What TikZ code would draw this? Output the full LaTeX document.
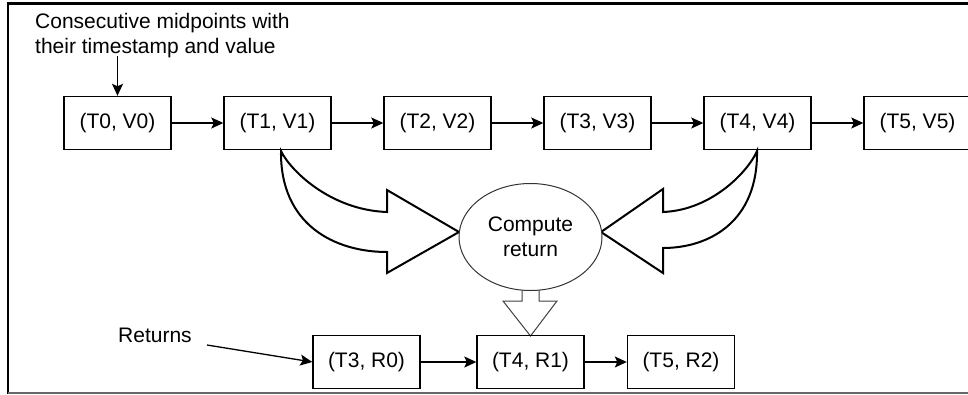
\documentclass[tikz,border=0pt]{standalone}
\usepackage{fontspec}
\setmainfont{Liberation Sans}
\usetikzlibrary{arrows.meta,shapes.geometric}

\begin{document}
\begin{tikzpicture}[x=1pt,y=-1pt,
  txt/.style={font=\fontsize{21}{25}\selectfont},
  box/.style={txt, draw, line width=1.4pt, minimum width=107pt,
              minimum height=53pt, inner sep=0pt},
  link/.style={line width=1.3pt,
               -{Stealth[length=12pt,width=11pt,inset=2.5pt]}},
  bigarrow/.style={draw, line width=2pt, fill=white, line join=miter},
  smallarrow/.style={draw=black!75, line width=1pt, fill=white, line join=miter},
]
\useasboundingbox (0,0) rectangle (968,394);

% frame
\draw[line width=3pt] (6.75,3.5) -- (968,3.5);
\draw[line width=2.5pt] (8,2) -- (8,394);
\draw[line width=1.5pt, black!60] (8,393.2) -- (968,393.2);

% midpoints
\node[box] (v0) at (117.5,123) {(T0, V0)};
\node[box] (v1) at (277.5,123) {(T1, V1)};
\node[box] (v2) at (437.5,123) {(T2, V2)};
\node[box] (v3) at (597.5,123) {(T3, V3)};
\node[box] (v4) at (757.5,123) {(T4, V4)};
\node[box] (v5) at (917.5,123) {(T5, V5)};

\foreach \a/\b in {v0/v1, v1/v2, v2/v3, v3/v4, v4/v5}
  \draw[link] (\a) -- (\b);

% caption
\node[txt, anchor=north west, align=left, inner sep=0pt] (note) at (35,13)
  {Consecutive midpoints with\\their timestamp and value};
\draw[link] ([yshift=2pt]note.south -| v0.north) -- (v0.north);

% curved block arrows into the computation
\path[bigarrow] (281,151) .. controls (290,170) and (330,210) .. (387,212)
  -- (387,190) -- (459,232) -- (387,273) -- (387,252)
  .. controls (335,252) and (280,225) .. (281,151) -- cycle;
\path[bigarrow] (757,151) .. controls (749,170) and (713,210) .. (663,212)
  -- (663,189) -- (601,232) -- (663,273) -- (663,248)
  .. controls (709,248) and (758,222) .. (757,151) -- cycle;

% block arrow down to the returns
\path[smallarrow] (522,285) -- (522,301) -- (503,301) -- (530.5,336)
  -- (557,301) -- (539,301) -- (539,285) -- cycle;

% computation
\node[txt, draw=black!80, fill=white, line width=1pt, ellipse,
      minimum width=143pt, minimum height=107pt, inner sep=0pt,
      align=center] (calc) at (530.5,237) {Compute\\return};

% returns
\node[box] (r0) at (366.5,362) {(T3, R0)};
\node[box] (r1) at (530.5,362) {(T4, R1)};
\node[box] (r2) at (681,362) {(T5, R2)};
\draw[link] (r0) -- (r1);
\draw[link] (r1) -- (r2);

\node[txt, anchor=base west, inner sep=0pt] (ret) at (118,342) {Returns};
\coordinate (retTail) at (207,345);
\draw[link] (retTail) -- (r0.west);
\end{tikzpicture}
\end{document}
